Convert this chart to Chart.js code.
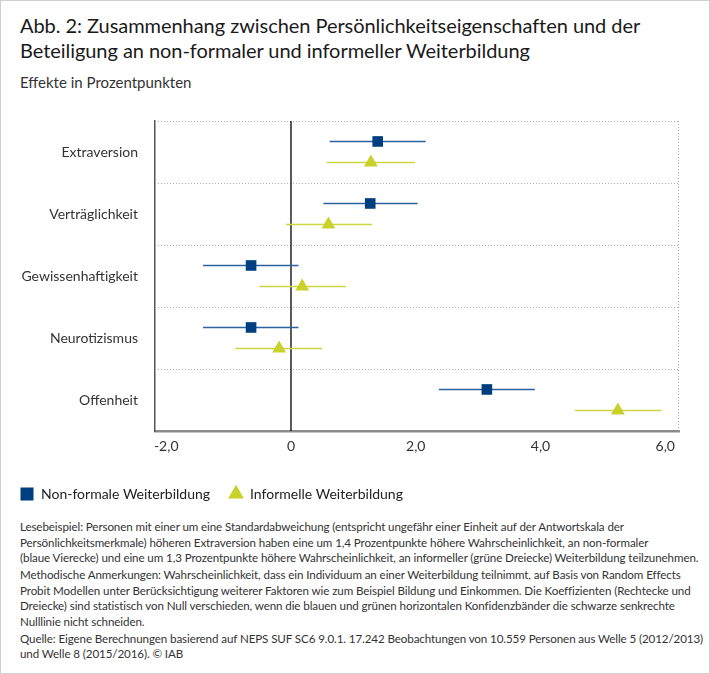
<!DOCTYPE html>
<html lang="de">
<head>
<meta charset="utf-8">
<title>Abb. 2</title>
<script src="https://cdn.jsdelivr.net/npm/chart.js@4.4.1/dist/chart.umd.min.js"></script>
<style>
  body { margin: 0; background: #fff; font-family: Lato, sans-serif; color: #222; }
  #rahmen { position: relative; width: 708px; height: 672px; border: 1px solid #cfcfcf; overflow: hidden; }
  h1 { position: absolute; left: 19px; top: 12px; margin: 0; font-weight: 400; font-size: 20px; letter-spacing: -0.05px; line-height: 25px; color: #1a1a1a; }
  #unter { position: absolute; left: 19px; top: 72px; font-size: 15px; color: #333; }
  #box { position: absolute; left: 0; top: 100px; width: 708px; height: 410px; }
  #notiz { position: absolute; left: 19px; top: 518px; font-size: 11.6px; letter-spacing: -0.1px; line-height: 15.5px; color: #333; white-space: nowrap; }
  #notiz p { margin: 0 0 1.5px; }
</style>
</head>
<body>
<div id="rahmen">
  <h1>Abb. 2: Zusammenhang zwischen Persönlichkeitseigenschaften und der<br>Beteiligung an non-formaler und informeller Weiterbildung</h1>
  <div id="unter">Effekte in Prozentpunkten</div>
  <div id="box"><canvas id="diagramm"></canvas></div>
  <div id="notiz">
    <p>Lesebeispiel: Personen mit einer um eine Standardabweichung (entspricht ungefähr einer Einheit auf der Antwortskala der<br>Persönlichkeitsmerkmale) höheren Extraversion haben eine um 1,4 Prozentpunkte höhere Wahrscheinlichkeit, an non-formaler<br>(blaue Vierecke) und eine um 1,3 Prozentpunkte höhere Wahrscheinlichkeit, an informeller (grüne Dreiecke) Weiterbildung teilzunehmen.</p>
    <p>Methodische Anmerkungen: Wahrscheinlichkeit, dass ein Individuum an einer Weiterbildung teilnimmt, auf Basis von Random Effects<br>Probit Modellen unter Berücksichtigung weiterer Faktoren wie zum Beispiel Bildung und Einkommen. Die Koeffizienten (Rechtecke und<br>Dreiecke) sind statistisch von Null verschieden, wenn die blauen und grünen horizontalen Konfidenzbänder die schwarze senkrechte<br>Nulllinie nicht schneiden.</p>
    <p>Quelle: Eigene Berechnungen basierend auf NEPS SUF SC6 9.0.1. 17.242 Beobachtungen von 10.559 Personen aus Welle 5 (2012/2013)<br>und Welle 8 (2015/2016). © IAB</p>
  </div>
</div>
<script>
const kategorien = ["Extraversion", "Verträglichkeit", "Gewissenhaftigkeit", "Neurotizismus", "Offenheit"];
const nonformal = [1.39, 1.27, -0.64, -0.64, 3.14];
const nonformalUnten = [0.62, 0.52, -1.41, -1.41, 2.37];
const nonformalOben = [2.16, 2.03, 0.12, 0.12, 3.91];
const informell = [1.28, 0.60, 0.18, -0.19, 5.24];
const informellUnten = [0.57, -0.08, -0.51, -0.89, 4.55];
const informellOben = [1.99, 1.30, 0.88, 0.50, 5.94];
const xTicks = [-2, 0, 2, 4, 6];

const blau = "#003f7f";
const blauLinie = "#2d62a0";
const gruen = "#c9d22a";
const gruenLinie = "#cdd645";
const versatz = 0.17;

function punkte(werte, dy) {
  return werte.map((w, i) => ({ x: w, y: i + dy }));
}
function baender(unten, oben, dy) {
  return unten.flatMap((u, i) => [{ x: u, y: i + dy }, { x: oben[i], y: i + dy }, { x: 0, y: null }]);
}

// gepunktete Trennlinien, rechter Rand und Nulllinie
const linien = {
  id: "linien",
  beforeDatasetsDraw(chart) {
    const { ctx, chartArea: a, scales: { x, y } } = chart;
    ctx.save();
    ctx.strokeStyle = "#a9a9a9";
    ctx.lineWidth = 1;
    ctx.setLineDash([1, 2]);
    ctx.beginPath();
    kategorien.forEach((k, i) => {
      const py = Math.round(y.getPixelForValue(i - 0.5)) + 0.5;
      ctx.moveTo(a.left, py);
      ctx.lineTo(a.right, py);
    });
    ctx.moveTo(a.right - 0.5, a.top);
    ctx.lineTo(a.right - 0.5, a.bottom);
    ctx.stroke();
    ctx.setLineDash([]);
    ctx.strokeStyle = "#000";
    ctx.lineWidth = 1.3;
    const px = x.getPixelForValue(0);
    ctx.beginPath();
    ctx.moveTo(px, a.top);
    ctx.lineTo(px, a.bottom);
    ctx.stroke();
    ctx.restore();
  }
};

new Chart(document.getElementById("diagramm"), {
  type: "scatter",
  data: {
    datasets: [
      {
        label: "Non-formale Weiterbildung",
        data: punkte(nonformal, -versatz),
        pointStyle: "rect",
        pointRadius: 7.5,
        backgroundColor: blau,
        borderColor: blau,
        borderWidth: 0,
        order: 0
      },
      {
        label: "Informelle Weiterbildung",
        data: punkte(informell, versatz),
        pointStyle: "triangle",
        pointRadius: 8,
        backgroundColor: gruen,
        borderColor: gruen,
        borderWidth: 0,
        order: 0
      },
      {
        label: "KI non-formal",
        data: baender(nonformalUnten, nonformalOben, -versatz),
        showLine: true,
        spanGaps: false,
        pointRadius: 0,
        borderColor: blauLinie,
        borderWidth: 1.5,
        order: 1
      },
      {
        label: "KI informell",
        data: baender(informellUnten, informellOben, versatz),
        showLine: true,
        spanGaps: false,
        pointRadius: 0,
        borderColor: gruenLinie,
        borderWidth: 1.5,
        order: 1
      }
    ]
  },
  options: {
    responsive: true,
    maintainAspectRatio: false,
    animation: false,
    layout: { padding: { top: 20, right: 30, left: 0, bottom: 0 } },
    plugins: {
      tooltip: { enabled: false },
      legend: {
        position: "bottom",
        align: "start",
        labels: {
          filter: item => item.datasetIndex < 2,
          usePointStyle: true,
          boxHeight: 13,
          padding: 19,
          color: "#222",
          font: { family: "Lato", size: 14 }
        }
      }
    },
    scales: {
      x: {
        type: "linear",
        min: -2.18,
        max: 6.22,
        afterBuildTicks: s => { s.ticks = xTicks.map(v => ({ value: v })); },
        afterFit: s => { s.height = 37; },
        grid: { display: false, drawTicks: false },
        border: { color: "#8a8a8a", width: 2.5 },
        ticks: {
          padding: 7,
          color: "#333",
          font: { family: "Lato", size: 14 },
          callback: v => v === 0 ? "0" : v.toFixed(1).replace(".", ",")
        }
      },
      y: {
        type: "linear",
        reverse: true,
        min: -0.5,
        max: 4.5,
        afterBuildTicks: s => { s.ticks = kategorien.map((k, i) => ({ value: i })); },
        afterFit: s => { s.width = 154; s.paddingTop = 0; s.paddingBottom = 0; },
        grid: { display: false, drawTicks: false },
        border: { color: "#555", width: 1.5 },
        ticks: {
          padding: 17,
          color: "#333",
          font: { family: "Lato", size: 14 },
          callback: v => kategorien[v]
        }
      }
    }
  },
  plugins: [linien]
});
</script>
</body>
</html>
